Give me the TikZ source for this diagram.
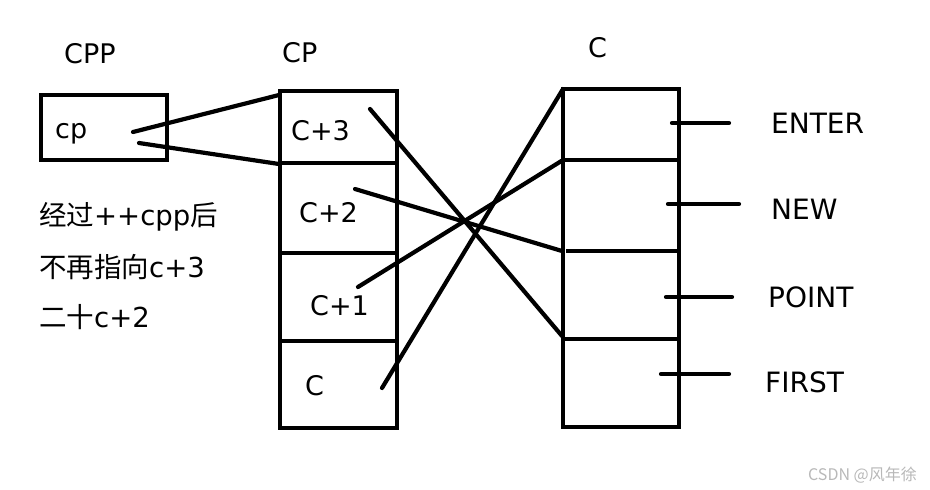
\documentclass[tikz,border=0pt]{standalone}
\usepackage{fontspec}
\setmainfont{DejaVu Sans}
\newfontfamily\cjk{Noto Sans CJK SC}
\begin{document}
\begin{tikzpicture}[x=1pt,y=-1pt,
  boxline/.style={line width=4.8pt,line cap=rect},
  link/.style={line width=4.2pt,line cap=round},
  lbl/.style={anchor=base west,inner sep=0pt,font=\fontsize{27}{30}\selectfont},
  biglbl/.style={anchor=base west,inner sep=0pt,font=\fontsize{28}{32}\selectfont},
  note/.style={anchor=base west,inner sep=0pt,font=\fontsize{27.5}{30}\selectfont},
  wmark/.style={anchor=base west,inner sep=0pt,text=black!28,font=\cjk\fontsize{16}{18}\selectfont}]
\useasboundingbox (0,0) rectangle (930,490);
% CPP box
\draw[boxline] (41,95) rectangle (167,160);
% CP box
\draw[boxline] (280,91) rectangle (397,428);
\draw[boxline] (280,163) -- (397,163);
\draw[boxline] (284,253) -- (397,253);
\draw[boxline] (280,341) -- (397,341);
% C box
\draw[boxline] (563,89) rectangle (679,427);
\draw[boxline] (563,160) -- (679,160);
\draw[boxline] (568,251) -- (679,251);
\draw[boxline] (563,339) -- (679,339);
% labels
\node[lbl] (lcpp) at (64,63) {CPP};
\node[lbl] (lcp) at (282,62) {CP};
\node[lbl] (lc) at (588,57) {C};
\node[lbl] (tcp) at (55,138) {cp};
\node[lbl] (c3) at (291,140) {C+3};
\node[lbl] (c2) at (299,222) {C+2};
\node[lbl] (c1) at (310,315) {C+1};
\node[lbl] (c0) at (305,395) {C};
\node[note] (n1) at (39,225) {{\cjk 经过}++cpp{\cjk 后}};
\node[note] (n2) at (39,277) {{\cjk 不再指向}c+3};
\node[note] (n3) at (39,327) {{\cjk 二十}c+2};
\node[biglbl] (enter) at (771,133) {ENTER};
\node[biglbl] (new) at (771,219) {NEW};
\node[biglbl] (point) at (768,307) {POINT};
\node[biglbl] (first) at (765,392) {FIRST};
\node[wmark] (wm) at (808,480) {CSDN @风年徐};
% connector endpoints
\coordinate (cpA) at (133,132);
\coordinate (cpB) at (139,143);
\coordinate (cpT) at (279,95);
\coordinate (cpM) at (279,164);
\coordinate (s3) at (370,109);
\coordinate (s2) at (355,189);
\coordinate (s1) at (358,287);
\coordinate (s0) at (382,388);
\coordinate (d3) at (562,336);
\coordinate (d2) at (562,251);
\coordinate (d1) at (563,160);
\coordinate (d0) at (563,89);
\draw[link] (cpA) -- (cpT);
\draw[link] (cpB) -- (cpM);
\draw[link] (s3) -- (d3);
\draw[link] (s2) -- (d2);
\draw[link] (s1) -- (d1);
\draw[link] (s0) -- (d0);
% ticks to names
\coordinate (e1) at (672,123); \coordinate (e2) at (729,123);
\coordinate (w1) at (668,204); \coordinate (w2) at (739,204);
\coordinate (p1) at (666,297); \coordinate (p2) at (732,297);
\coordinate (f1) at (661,374); \coordinate (f2) at (729,374);
\draw[link] (e1) -- (e2);
\draw[link] (w1) -- (w2);
\draw[link] (p1) -- (p2);
\draw[link] (f1) -- (f2);
\end{tikzpicture}
\end{document}
